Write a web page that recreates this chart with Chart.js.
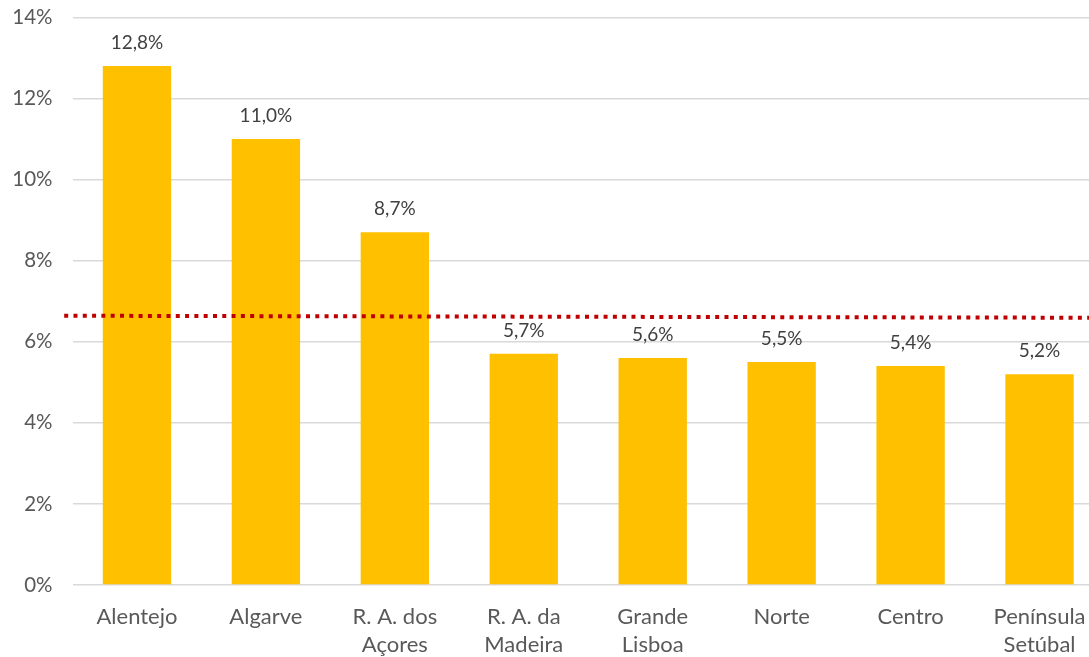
<!DOCTYPE html>
<html>
<head>
<meta charset="utf-8">
<script src="https://cdn.jsdelivr.net/npm/chart.js@4"></script>
<style>
  html, body { margin: 0; padding: 0; background: #fff; overflow: hidden; }
  #wrap { width: 1106px; height: 657px; position: relative; }
</style>
</head>
<body>
<div id="wrap"><canvas id="chart"></canvas></div>
<script>
// --- Datos --------------------------------------------------------------
const regions = [
  'Alentejo', 'Algarve', ['R. A. dos', 'Açores'], ['R. A. da', 'Madeira'],
  ['Grande', 'Lisboa'], 'Norte', 'Centro', ['Península', 'Setúbal']
];
const rates = [12.8, 11.0, 8.7, 5.7, 5.6, 5.5, 5.4, 5.2];
// linea de media (punteada), extremo izquierdo y derecho
const avgLine = [6.64, 6.59];
const yTicks = [0, 2, 4, 6, 8, 10, 12, 14];

const FONT = 'Lato, "Open Sans", "DejaVu Sans", sans-serif';

// etiquetas encima de las barras
const barLabels = {
  id: 'barLabels',
  afterDatasetsDraw(chart) {
    const ctx = chart.ctx;
    const meta = chart.getDatasetMeta(0);
    ctx.save();
    ctx.font = '19px ' + FONT;
    ctx.fillStyle = '#404040';
    ctx.textAlign = 'center';
    ctx.textBaseline = 'middle';
    meta.data.forEach((bar, i) => {
      const txt = rates[i].toFixed(1).replace('.', ',') + '%';
      ctx.fillText(txt, bar.x, bar.y - 23);
    });
    ctx.restore();
  }
};

const chart = new Chart(document.getElementById('chart'), {
  type: 'bar',
  data: {
    labels: regions,
    datasets: [
      {
        type: 'bar',
        data: rates,
        backgroundColor: '#FFC000',
        categoryPercentage: 1,
        barPercentage: 0.53,
        grouped: false,
        order: 2
      },
      {
        type: 'line',
        xAxisID: 'x2',
        data: [{ x: 0, y: avgLine[0] }, { x: 1, y: avgLine[1] }],
        borderColor: '#C00000',
        borderWidth: 4,
        borderDash: [4, 5.3],
        pointRadius: 0,
        clip: false,
        order: 1
      }
    ]
  },
  options: {
    responsive: true,
    maintainAspectRatio: false,
    animation: false,
    layout: { padding: { top: 0, right: 2, left: 0, bottom: 0 } },
    plugins: { legend: { display: false }, tooltip: { enabled: false } },
    scales: {
      x: {
        type: 'category',
        offset: true,
        grid: { display: false, offset: true },
        border: { display: false },
        ticks: {
          color: '#595959',
          font: { family: FONT, size: 22, lineHeight: 1.27 },
          padding: 10,
          maxRotation: 0,
          autoSkip: false
        },
        afterFit(s) { s.height = 72; }
      },
      x2: {
        type: 'linear',
        display: false,
        offset: false,
        min: 0.008,
        max: 1
      },
      y: {
        min: 0,
        max: 14,
        afterBuildTicks(s) { s.ticks = yTicks.map(v => ({ value: v })); },
        grid: { color: '#d9d9d9', lineWidth: 1.5, drawTicks: false },
        border: { display: false },
        ticks: {
          color: '#595959',
          font: { family: FONT, size: 20.5 },
          padding: 20,
          callback: v => v + '%'
        },
        afterFit(s) { s.width = 72.5; s.paddingTop = 17.3; }
      }
    }
  },
  plugins: [barLabels]
});
</script>
</body>
</html>
